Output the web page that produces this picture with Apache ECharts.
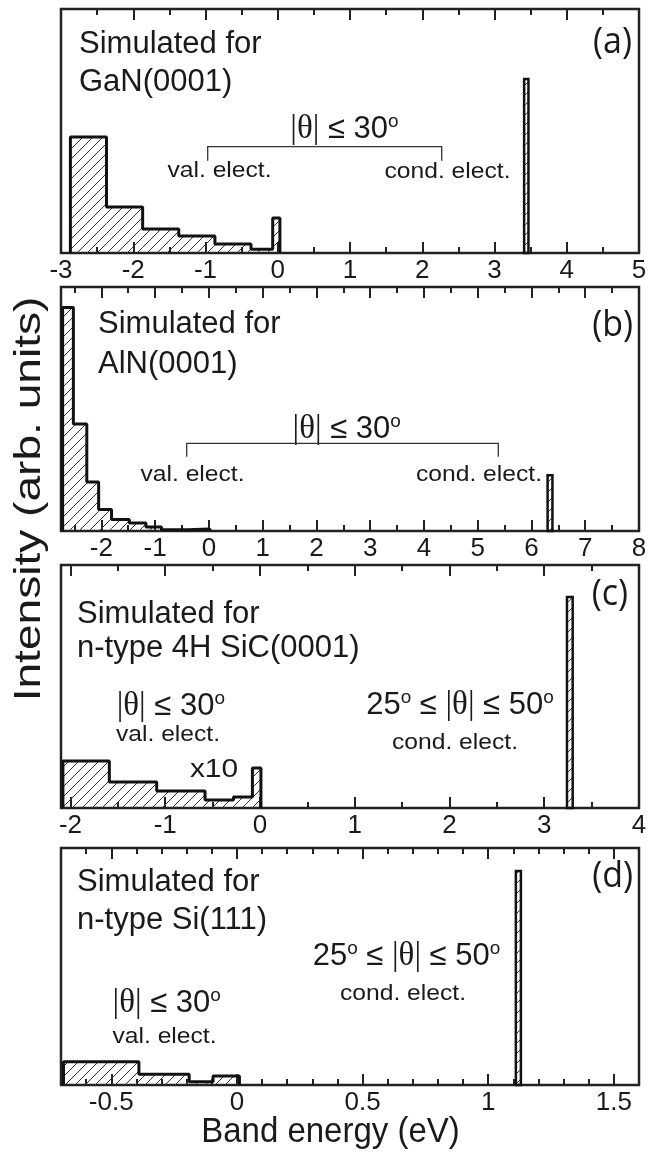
<!DOCTYPE html>
<html>
<head>
<meta charset="UTF-8">
<title>Simulated band energy spectra</title>
<script src="https://cdn.jsdelivr.net/npm/echarts@6/dist/echarts.min.js"></script>
<style type="text/css">
body{margin:0;padding:0;background:#fff;}
#main{width:660px;height:1153px;}
</style>
</head>
<body>
<div id="main"></div>
<script type="text/javascript">
// valence histograms: bin edges (eV) and heights (arb. units, 100 = top of panel)
var edgesA = [-2.87, -2.37, -1.87, -1.37, -0.87, -0.37, -0.07, 0.03];
var valA   = [47.5, 18.9, 9.8, 7.0, 3.7, 1.5, 14.3];
var edgesB = [-2.72, -2.52, -2.27, -2.05, -1.81, -1.48, -1.17, -0.88, -0.4, 0.02];
var valB   = [91.6, 43.9, 20.1, 8.8, 4.7, 3.3, 1.6, 0.5, 0.8];
var edgesC = [-2.08, -1.59, -1.09, -0.58, -0.28, -0.08, 0.01];
var valC   = [19.3, 10.7, 7.0, 3.3, 4.5, 16.5];
var edgesD = [-0.69, -0.39, -0.19, -0.095, 0.01];
var valD   = [9.8, 4.5, 1.4, 3.8];

// conduction peaks: [from, to, height]
var condA = [3.41, 3.47, 71.3];
var condB = [6.30, 6.39, 22.8];
var condC = [3.24, 3.30, 86.8];
var condD = [1.11, 1.13, 90.3];

// tick labels / ticks
var majorA = [-3, -2, -1, 0, 1, 2, 3, 4, 5];
var minorA = [-2.5, -1.5, -0.5, 0.5, 1.5, 2.5, 3.5, 4.5];
var majorB = [-2, -1, 0, 1, 2, 3, 4, 5, 6, 7, 8];
var minorB = [-2.5, -1.5, -0.5, 0.5, 1.5, 2.5, 3.5, 4.5, 5.5, 6.5, 7.5];
var majorC = [-2, -1, 0, 1, 2, 3, 4];
var minorC = [-1.5, -0.5, 0.5, 1.5, 2.5, 3.5];
var majorD = [-0.5, 0, 0.5, 1, 1.5];
var minorD = [-0.6, -0.4, -0.3, -0.2, -0.1, 0.1, 0.2, 0.3, 0.4, 0.6, 0.7, 0.8, 0.9, 1.1, 1.2, 1.3, 1.4];

var FONT = "'Liberation Sans', Arial, sans-serif";
var INK = '#1a1a1a';

// diagonal hatch
var hatch = document.createElement('canvas');
hatch.width = 10; hatch.height = 10;
var hc = hatch.getContext('2d');
hc.strokeStyle = '#333'; hc.lineWidth = 1;
hc.beginPath();
hc.moveTo(0, 10); hc.lineTo(10, 0);
hc.moveTo(-1, 1); hc.lineTo(1, -1);
hc.moveTo(9, 11); hc.lineTo(11, 9);
hc.stroke();
var hatchFill = { image: hatch, repeat: 'repeat' };

var panels = [
  { top: 9,   height: 244, min: -3,    max: 5,   edges: edgesA, vals: valA, cond: condA, major: majorA, minor: minorA },
  { top: 287, height: 244, min: -2.75, max: 8,   edges: edgesB, vals: valB, cond: condB, major: majorB, minor: minorB },
  { top: 565, height: 243, min: -2.1,  max: 4,   edges: edgesC, vals: valC, cond: condC, major: majorC, minor: minorC },
  { top: 848, height: 237, min: -0.7,  max: 1.6, edges: edgesD, vals: valD, cond: condD, major: majorD, minor: minorD }
];

function rectItem(outlined) {
  return function (params, api) {
    var a = api.coord([api.value(0), api.value(2)]);
    var b = api.coord([api.value(1), 0]);
    return {
      type: 'rect',
      shape: { x: a[0], y: a[1], width: b[0] - a[0], height: b[1] - a[1] },
      style: { fill: hatchFill, stroke: outlined ? '#111' : null, lineWidth: outlined ? 2.5 : 0 }
    };
  };
}

function tickAxis(i, p, pos, vals, len, labels) {
  return {
    gridIndex: i, type: 'value', min: p.min, max: p.max, position: pos,
    axisLine: { show: false }, splitLine: { show: false },
    axisTick: { show: true, inside: true, length: len, customValues: vals, lineStyle: { color: '#222', width: 2 } },
    axisLabel: labels ? { show: true, customValues: vals, fontSize: 26, margin: 5, color: INK, fontFamily: FONT } : { show: false }
  };
}

var grid = [], xAxis = [], yAxis = [], series = [];
panels.forEach(function (p, i) {
  grid.push({ left: 61, right: 21, top: p.top, height: p.height, show: true, borderColor: '#222', borderWidth: 2.5 });
  xAxis.push(tickAxis(i, p, 'bottom', p.major, 11, true));
  xAxis.push(tickAxis(i, p, 'bottom', p.minor, 6, false));
  xAxis.push(tickAxis(i, p, 'top', p.major, 11, false));
  xAxis.push(tickAxis(i, p, 'top', p.minor, 6, false));
  yAxis.push({ gridIndex: i, type: 'value', min: 0, max: 100, show: false });

  var bins = [], outline = [[p.edges[0], 0]];
  for (var k = 0; k < p.vals.length; k++) {
    bins.push([p.edges[k], p.edges[k + 1], p.vals[k]]);
    outline.push([p.edges[k], p.vals[k]], [p.edges[k + 1], p.vals[k]]);
  }
  outline.push([p.edges[p.edges.length - 1], 0]);

  series.push({ type: 'custom', xAxisIndex: i * 4, yAxisIndex: i, renderItem: rectItem(false), encode: { x: [0, 1], y: 2 }, data: bins, silent: true });
  series.push({ type: 'line', xAxisIndex: i * 4, yAxisIndex: i, data: outline, symbol: 'none', lineStyle: { color: '#111', width: 3 }, silent: true });
  series.push({ type: 'custom', xAxisIndex: i * 4, yAxisIndex: i, renderItem: rectItem(true), encode: { x: [0, 1], y: 2 }, data: [p.cond], silent: true });
});

function txt(x, y, text, size, o) {
  o = o || {};
  var align = o.align || 'left';
  return {
    type: 'text', x: x, y: y, z: 10, silent: true,
    scaleX: o.sx || 1, scaleY: o.sy || 1, rotation: o.rot || 0,
    style: {
      text: text, fill: INK, fontSize: size, fontFamily: o.family || FONT,
      align: align, textAlign: align, verticalAlign: 'middle', textVerticalAlign: 'middle',
      rich: o.rich
    }
  };
}

var thetaRich = {
  s: { fontSize: 31, fontFamily: FONT, fill: INK },
  t: { fontSize: 33, fontFamily: "'Liberation Serif', 'Times New Roman', serif", fill: INK },
  o: { fontSize: 19, fontFamily: FONT, fill: INK, verticalAlign: 'top' }
};
var THETA30 = '{t||\u03b8|}{s| \u2264 30}{o|o}';
var THETA2550 = '{s|25}{o|o}{s| \u2264 }{t||\u03b8|}{s| \u2264 50}{o|o}';

function bracket(x0, x1, y, drop) {
  return { type: 'polyline', z: 10, silent: true,
    shape: { points: [[x0, y + drop], [x0, y], [x1, y], [x1, y + drop]] },
    style: { stroke: '#333', lineWidth: 1.3, fill: null } };
}

var small = { align: 'center', sx: 1.12 };
var graphic = [
  // (a)
  txt(79, 44, 'Simulated for', 31),
  txt(79, 82.5, 'GaN(0001)', 31),
  txt(344.5, 129, THETA30, 31, { align: 'center', rich: thetaRich }),
  bracket(207.7, 441.7, 146.7, 14),
  txt(219.5, 171, 'val. elect.', 22, small),
  txt(447.5, 171.5, 'cond. elect.', 22, small),
  txt(632, 42, '(a)', 34, { align: 'right', family: "'Open Sans', sans-serif", sy: 1.1 }),
  // (b)
  txt(98, 324, 'Simulated for', 31),
  txt(98, 364, 'AlN(0001)', 31),
  txt(346.7, 429, THETA30, 31, { align: 'center', rich: thetaRich }),
  bracket(186.7, 498.3, 443.3, 13.4),
  txt(192.5, 475, 'val. elect.', 22, small),
  txt(479, 475, 'cond. elect.', 22, small),
  txt(633, 325, '(b)', 34, { align: 'right', family: "'Open Sans', sans-serif", sy: 1.1 }),
  // (c)
  txt(77, 614, 'Simulated for', 31),
  txt(77, 648.5, 'n-type 4H SiC(0001)', 31),
  txt(170.8, 706, THETA30, 31, { align: 'center', rich: thetaRich }),
  txt(168, 735, 'val. elect.', 22, small),
  txt(214, 770, 'x10', 26, { align: 'center', sx: 1.15 }),
  txt(460, 705, THETA2550, 31, { align: 'center', rich: thetaRich }),
  txt(455, 743, 'cond. elect.', 22, small),
  txt(628, 594, '(c)', 34, { align: 'right', family: "'Open Sans', sans-serif", sy: 1.1 }),
  // (d)
  txt(77, 882, 'Simulated for', 31),
  txt(77, 920, 'n-type Si(111)', 31),
  txt(166.7, 1003, THETA30, 31, { align: 'center', rich: thetaRich }),
  txt(164.5, 1037, 'val. elect.', 22, small),
  txt(406.5, 956, THETA2550, 31, { align: 'center', rich: thetaRich }),
  txt(403, 994, 'cond. elect.', 22, small),
  txt(633, 876, '(d)', 34, { align: 'right', family: "'Open Sans', sans-serif", sy: 1.1 }),
  // axis titles
  txt(330.5, 1132.5, 'Band energy (eV)', 33, { align: 'center', sy: 1.06 }),
  txt(30, 499, 'Intensity (arb. units)', 36, { align: 'center', rot: Math.PI / 2, sx: 1.28 })
];

var chart = echarts.init(document.getElementById('main'));
chart.setOption({
  animation: false,
  backgroundColor: '#fff',
  grid: grid,
  xAxis: xAxis,
  yAxis: yAxis,
  series: series,
  graphic: graphic
});
</script>
</body>
</html>
